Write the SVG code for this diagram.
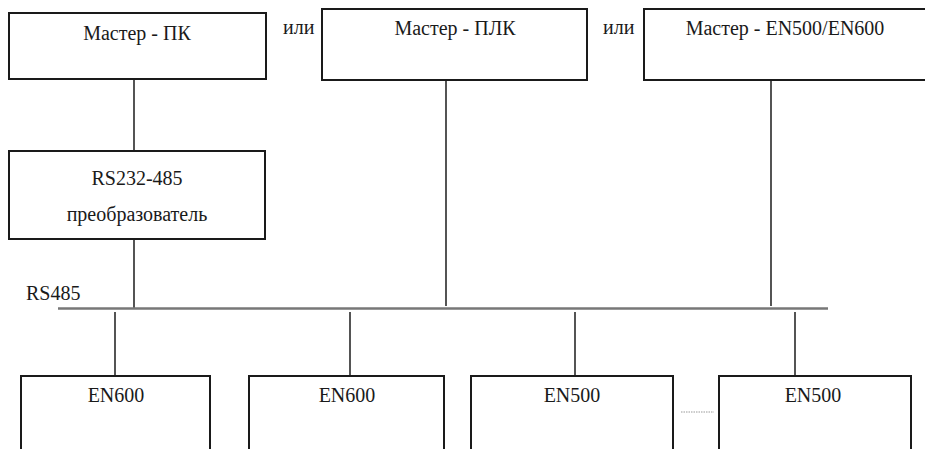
<svg xmlns="http://www.w3.org/2000/svg" width="925" height="449" viewBox="0 0 925 449">
<defs>
<style>
text{font-family:"Liberation Serif",serif;font-size:20px;fill:#1a1a1a}
.box{fill:#fff;stroke:#1a1a1a;stroke-width:2}
.ln{stroke:#2a2a2a;stroke-width:1.6;fill:none}
.bus{stroke:#777;stroke-width:2.5;fill:none}
</style>
</defs>
<rect width="925" height="449" fill="#fff"/>
<g id="connectors">
<line class="ln" x1="134" y1="79" x2="134" y2="151"/>
<line class="ln" x1="134" y1="239" x2="134" y2="308"/>
<line class="ln" x1="446" y1="80" x2="446" y2="306"/>
<line class="ln" x1="771" y1="80" x2="771" y2="306"/>
<line class="bus" x1="58" y1="308.5" x2="828" y2="308.5"/>
<line class="ln" x1="115" y1="312" x2="115" y2="376"/>
<line class="ln" x1="350" y1="312" x2="350" y2="376"/>
<line class="ln" x1="575" y1="312" x2="575" y2="376"/>
<line class="ln" x1="795" y1="312" x2="795" y2="376"/>
<line x1="681" y1="412" x2="714" y2="412" stroke="#999" stroke-width="1" stroke-dasharray="1.5,1"/>
</g>
<g id="master-pc">
<rect class="box" x="9" y="13" width="257" height="66"/>
<text x="137" y="40" text-anchor="middle">Мастер - ПК</text>
</g>
<text x="283" y="34">или</text>
<g id="master-plc">
<rect class="box" x="322" y="9" width="265" height="71"/>
<text x="455" y="35" text-anchor="middle">Мастер - ПЛК</text>
</g>
<text x="603" y="34">или</text>
<g id="master-en">
<rect class="box" x="644" y="9" width="290" height="71"/>
<text x="785" y="35" text-anchor="middle">Мастер - EN500/EN600</text>
</g>
<g id="converter">
<rect class="box" x="9" y="151" width="256" height="88"/>
<text x="137" y="185" text-anchor="middle">RS232-485</text>
<text x="137" y="221" text-anchor="middle">преобразователь</text>
</g>
<text x="26" y="300">RS485</text>
<g id="en600-1">
<rect class="box" x="21" y="376" width="189" height="90"/>
<text x="116" y="402" text-anchor="middle">EN600</text>
</g>
<g id="en600-2">
<rect class="box" x="249" y="376" width="195" height="90"/>
<text x="347" y="402" text-anchor="middle">EN600</text>
</g>
<g id="en500-1">
<rect class="box" x="471" y="376" width="202" height="90"/>
<text x="572" y="402" text-anchor="middle">EN500</text>
</g>
<g id="en500-2">
<rect class="box" x="719" y="376" width="192" height="90"/>
<text x="813" y="402" text-anchor="middle">EN500</text>
</g>
</svg>
